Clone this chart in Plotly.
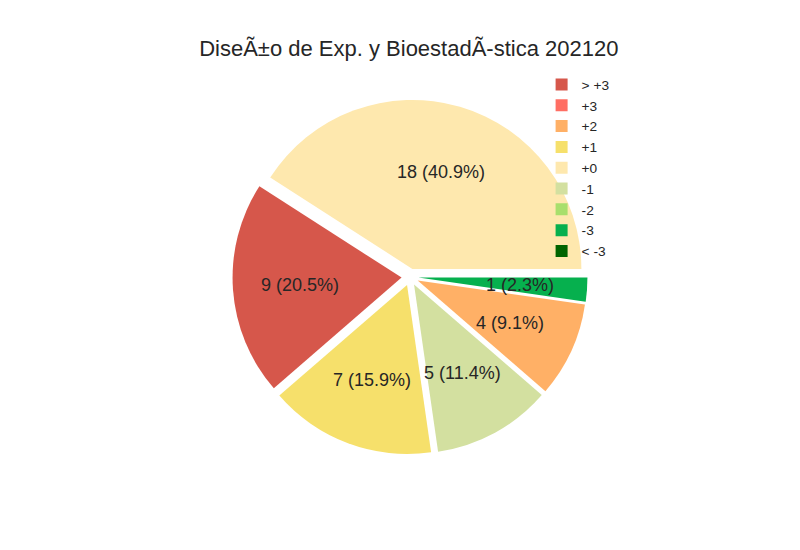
import math
import plotly.graph_objects as go

# Legend order (all categories)
legend_labels = ["> +3", "+3", "+2", "+1", "+0", "-1", "-2", "-3", "< -3"]
legend_counts = [9, 0, 4, 7, 18, 5, 0, 1, 0]
legend_colors = ["#d6574b", "#ff6e63", "#ffb066", "#f6e06b", "#fee8ae",
                 "#d3e0a0", "#a8df6c", "#06b04e", "#006400"]

# Slice order (clockwise from 3 o'clock)
slice_labels = ["-3", "+2", "-1", "+1", "> +3", "+0"]
slice_counts = [1, 4, 5, 7, 9, 18]

color_of = dict(zip(legend_labels, legend_colors))
slice_colors = [color_of[l] for l in slice_labels]

FONT = "Liberation Sans, Arial, sans-serif"
W, H = 800, 550
PAGE_OFF = 8                 # body margin of the html page
CX, CY = 410, 277            # target pie centre (screen px)
R = 169                      # pie radius (px)
PULL = 0.05
PCT_DIST = 0.6

half = R * (1 + PULL)
cxp, cyp = CX - PAGE_OFF, CY - PAGE_OFF
dom_x = [(cxp - half) / W, (cxp + half) / W]
dom_y = [1 - (cyp + half) / H, 1 - (cyp - half) / H]

fig = go.Figure()

# legend-order helper trace (tiny, invisible)
fig.add_trace(go.Pie(
    labels=legend_labels, values=legend_counts, sort=False,
    marker=dict(colors=legend_colors, line=dict(width=0)),
    textinfo="none", hoverinfo="skip",
    domain=dict(x=[0, 0.0005], y=[0, 0.0005]),
    showlegend=True,
))

fig.add_trace(go.Pie(
    labels=slice_labels, values=slice_counts, sort=False,
    direction="clockwise", rotation=90,
    marker=dict(colors=slice_colors, line=dict(width=0)),
    pull=[PULL] * len(slice_labels),
    textinfo="none",
    domain=dict(x=dom_x, y=dom_y),
    showlegend=True,
))

# slice labels placed like matplotlib's autopct (pctdistance 0.6)
total = sum(slice_counts)
cum = 0
annotations = []
for lab, v in zip(slice_labels, slice_counts):
    theta = -math.radians((cum + v / 2) / total * 360)
    cum += v
    dist = R * PULL + R * PCT_DIST
    px = cxp + dist * math.cos(theta)
    py = cyp - dist * math.sin(theta)
    annotations.append(dict(
        x=px / W, y=1 - py / H, xref="paper", yref="paper",
        text=f"{v} ({v / total * 100:.1f}%)", showarrow=False,
        xanchor="center", yanchor="middle",
        font=dict(family=FONT, size=18, color="#262626"),
    ))

fig.update_layout(
    width=W, height=H,
    margin=dict(l=0, r=0, t=0, b=0),
    paper_bgcolor="white", plot_bgcolor="white",
    title=dict(text="DiseÃ±o de Exp. y BioestadÃ-stica 202120",
               x=0.501, xanchor="center", y=0.927, yanchor="middle",
               font=dict(family=FONT, size=22, color="#262626")),
    legend=dict(x=0.667, y=0.889, xanchor="left", yanchor="top",
                font=dict(family=FONT, size=13.7, color="#262626"),
                bgcolor="rgba(255,255,255,0)", tracegroupgap=0,
                itemsizing="constant"),
    annotations=annotations,
)

fig.write_html("out.html")
